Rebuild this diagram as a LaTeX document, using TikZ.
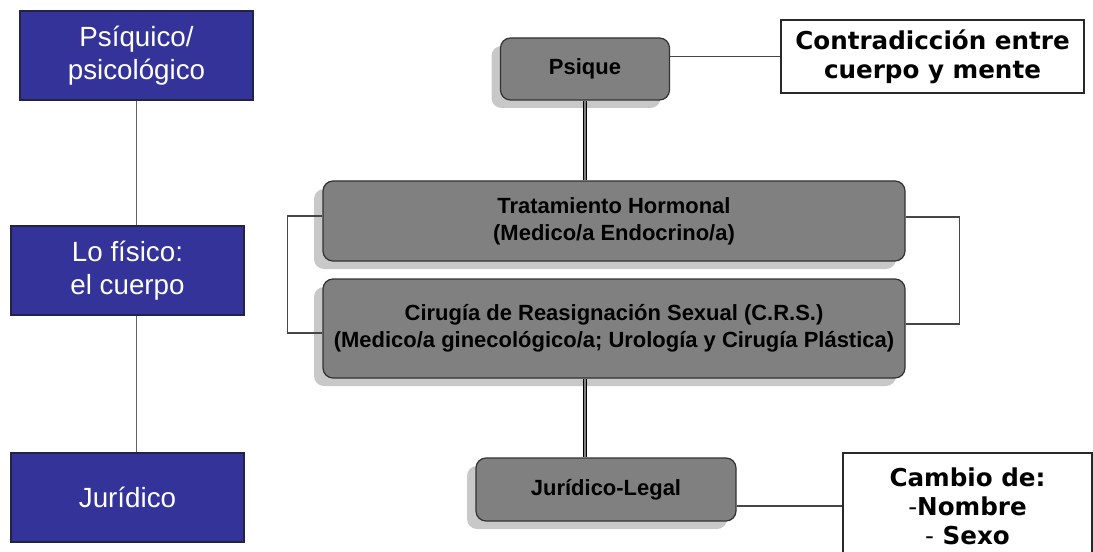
\documentclass[tikz,border=0pt]{standalone}
\usepackage{fontspec}
\setmainfont{Liberation Sans}
\newfontfamily\verdfont{DejaVu Sans}
\usetikzlibrary{shadows}

\begin{document}
\begin{tikzpicture}[
  bluebox/.style={draw=blueedge,fill=bluefill,text=white,line width=0.6pt,minimum width=4.66cm,minimum height=1.78cm,align=center,font=\fontsize{15.8}{18.5}\selectfont},
  graybox/.style={draw=grayedge,fill=grayfill,rounded corners=0.2cm,line width=0.7pt,align=center,font=\bfseries\fontsize{12.5}{15.5}\selectfont,drop shadow={shadow xshift=-0.18cm,shadow yshift=-0.16cm,fill=shadowcolor,opacity=1}},
  notebox/.style={draw=noteedge,fill=white,line width=0.7pt,align=center,font=\verdfont\bfseries\fontsize{14}{16.5}\selectfont},
  thinline/.style={draw=linecolor,line width=0.6pt},
  thickline/.style={draw=black,line width=0.6pt,double=grayfill,double distance=0.7pt},
  colline/.style={draw=colcolor,line width=1pt}
]
\definecolor{bluefill}{RGB}{51,51,153}
\definecolor{blueedge}{RGB}{35,35,70}
\definecolor{grayfill}{RGB}{128,128,128}
\definecolor{grayedge}{RGB}{50,50,50}
\definecolor{shadowcolor}{RGB}{200,200,200}
\definecolor{noteedge}{RGB}{40,40,40}
\definecolor{linecolor}{RGB}{70,70,70}
\definecolor{colcolor}{RGB}{100,100,100}
\useasboundingbox (0,0) rectangle (21.86,11.02);
\clip (0,0) rectangle (21.86,11.02);
\node (psiq) at (2.73,9.91) [bluebox] {Psíquico/\\psicológico};
\node (fisico) at (2.55,5.61) [bluebox] {Lo físico:\\el cuerpo};
\node (jurid) at (2.55,1.07) [bluebox] {Jurídico};
\node (psique) at (11.70,9.64) [graybox,minimum width=3.38cm,minimum height=1.24cm] {Psique};
\node (contra) at (18.65,9.89) [notebox,minimum width=6.06cm,minimum height=1.46cm] {Contradicción entre\\cuerpo y mente};
\node (hormon) at (12.28,6.60) [graybox,minimum width=11.64cm,minimum height=1.60cm] {Tratamiento Hormonal\\(Medico/a Endocrino/a)};
\node (cirug) at (12.28,4.45) [graybox,minimum width=11.64cm,minimum height=1.98cm] {Cirugía de Reasignación Sexual (C.R.S.)\\(Medico/a ginecológico/a; Urología y Cirugía Plástica)};
\node (legal) at (12.12,1.23) [graybox,minimum width=5.20cm,minimum height=1.26cm] {Jurídico-Legal};
\node (cambio) at (19.35,0.90) [notebox,minimum width=4.98cm,minimum height=2.12cm] {Cambio de:\\{\mdseries-}Nombre\\{\mdseries-} Sexo};
\draw [colline] (psiq.south) -- (psiq.south |- fisico.north);
\draw [colline] (fisico.south -| psiq.south) -- (jurid.north -| psiq.south);
\draw [thickline] (psique.south) -- (psique.south |- hormon.north);
\draw [thickline] (cirug.south -| psique.south) -- (legal.north -| psique.south);
\draw [thinline] (contra.west) -- (contra.west -| psique.east);
\draw [thinline] (cambio.west) -- (cambio.west -| legal.east);
\draw [thinline] ([yshift=0.1cm]hormon.west) -- ++(-0.7,0) |- ([yshift=-0.09cm]cirug.west);
\draw [thinline] ([yshift=0.08cm]hormon.east) -- ++(1.08,0) |- ([yshift=0.09cm]cirug.east);
\end{tikzpicture}
\end{document}
